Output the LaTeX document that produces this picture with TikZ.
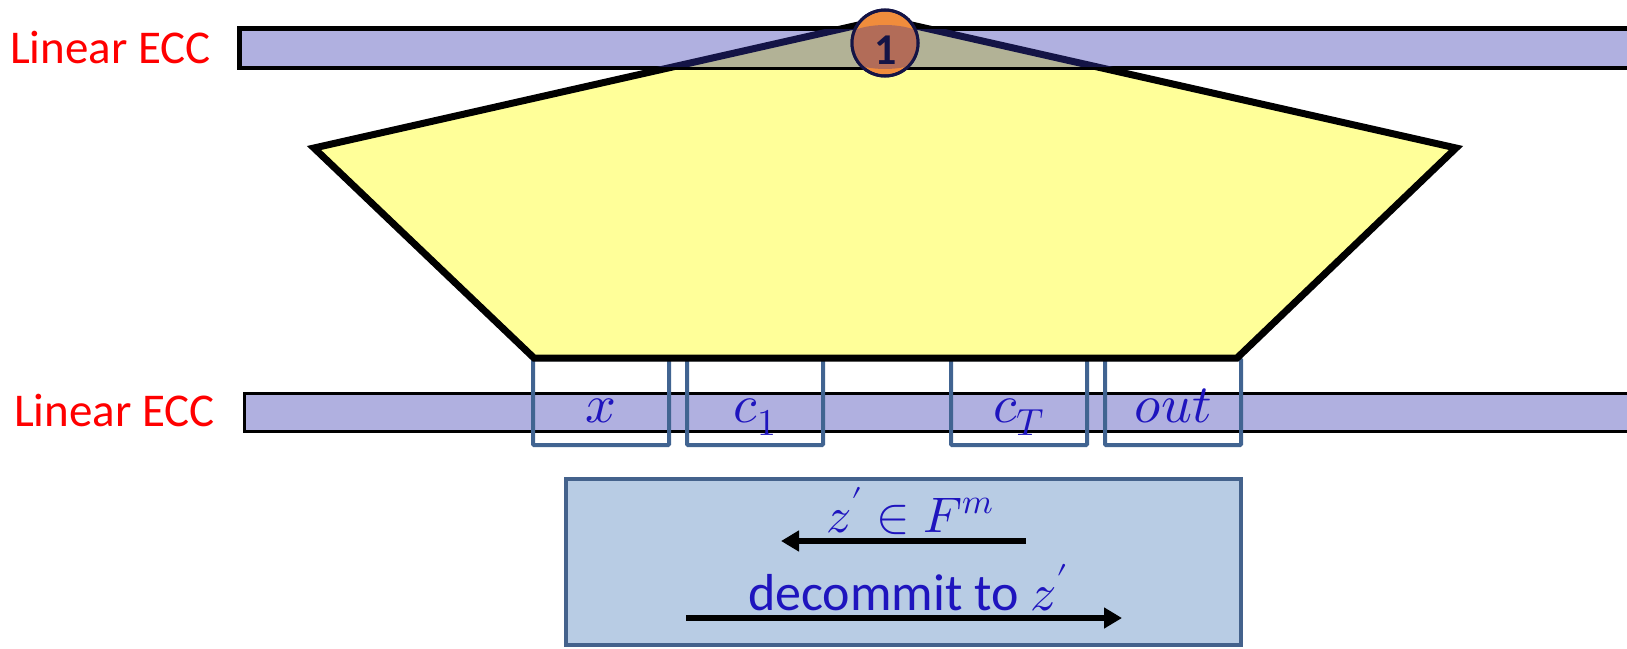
\documentclass[tikz,border=0pt]{standalone}
\usepackage{fontspec}
\usepackage{unicode-math}
\setmainfont{Carlito}
\setmathfont{Latin Modern Math}
\usetikzlibrary{arrows.meta,positioning}
\definecolor{eccblue}{RGB}{176,176,224}
\definecolor{eccmix}{RGB}{178,178,150}
\definecolor{gateyel}{RGB}{255,255,153}
\definecolor{cellline}{RGB}{65,100,145}
\definecolor{msgfill}{RGB}{184,204,228}
\definecolor{msgline}{RGB}{68,98,140}
\definecolor{txtblue}{RGB}{30,20,190}
\definecolor{navy}{RGB}{20,20,70}
\definecolor{coinbrown}{RGB}{178,108,88}
\definecolor{coinorange}{RGB}{240,140,60}
\newcommand{\fs}[1]{\fontsize{#1}{#1}\selectfont}
\tikzset{
  band/.style={draw, line width=3pt, fill=eccblue, minimum height=38pt, inner sep=0pt},
  ecclabel/.style={anchor=base west, inner sep=0pt, text=red, font=\fs{47}},
  cell/.style={draw=cellline, line width=4pt, minimum width=136pt, minimum height=86pt,
               text=txtblue, font=\fs{54}, text height=40pt, text depth=0pt, rounded corners=1pt},
  msg/.style={text=txtblue, inner sep=0pt, anchor=base},
  flow/.style={-{Triangle[length=18pt,width=20pt]}, line width=6pt},
}

\begin{document}
\begin{tikzpicture}[x=1pt, y=-1pt]
  \useasboundingbox (0,0) rectangle (1627,648);
  % lower code band and its cells
  \node[band, minimum width=1390pt] (eccB) at (939,412) {};
  \node[cell] (cx) at (601,402) {$x$};
  \node[cell] (cc1) at (755,402) {$c_1$};
  \node[cell] (ccT) at (1019,402) {$c_T$};
  \node[cell] (cout) at (1173,402) {$out$};
  % the gate
  \coordinate (pTop) at (885,19);
  \coordinate (pL) at (314,148);
  \coordinate (pR) at (1456,148);
  \coordinate (pBL) at (534,358);
  \coordinate (pBR) at (1237,358);
  \draw[line width=7pt, fill=gateyel] (pTop) -- (pR) -- (pBR) -- (pBL) -- (pL) -- cycle;
  % upper code band over the gate
  \node[band, minimum width=1394pt] (eccA) at (937,48) {};
  \begin{scope}
    \clip (pTop) -- (pR) -- (pBR) -- (pBL) -- (pL) -- cycle;
    \fill[eccmix] (eccA.south west) rectangle (eccA.north east);
  \end{scope}
  \begin{scope}
    \clip (eccA.south west) rectangle (eccA.north east);
    \draw[navy, line width=7pt] (pL) -- (pTop) -- (pR);
  \end{scope}
  \draw[line width=3pt] (eccA.south west) rectangle (eccA.north east);
  % step marker
  \node[circle, draw=navy, line width=3pt, minimum size=66pt, fill=coinorange, inner sep=0pt] (coin) at (885,43) {};
  \begin{scope}
    \clip (coin.center) circle (33pt);
    \fill[coinbrown] (885,47) ellipse (48pt and 22pt);
  \end{scope}
  \draw[navy, line width=3pt] (coin.center) circle (33pt);
  \node[anchor=base, inner sep=0pt, text=navy, font=\fs{44}\bfseries] (coinnum) at (886,64) {1};
  \node[ecclabel] (labA) at (10,63) {Linear ECC};
  \node[ecclabel] (labB) at (14,426) {Linear ECC};
  % check phase
  \node[draw=msgline, fill=msgfill, line width=4pt, minimum width=675pt, minimum height=166pt] (chan) at (903.5,562) {};
  \coordinate (a1s) at (1026,541);
  \coordinate (a1e) at (781,541);
  \coordinate (a2s) at (686,618);
  \coordinate (a2e) at (1122,618);
  \draw[flow] (a1s) -- (a1e);
  \draw[flow] (a2s) -- (a2e);
  \node[msg, font=\fs{50}] (ask) at (910,532) {$z' \in F^m$};
  \node[msg, font=\fs{52}] (open) at (908,610) {decommit to $z'$};
\end{tikzpicture}
\end{document}
